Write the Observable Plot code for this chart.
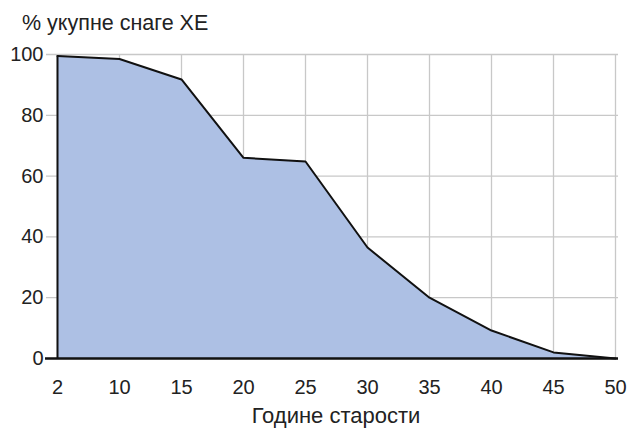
<!DOCTYPE html>
<html>
<head>
<meta charset="utf-8">
<script src="https://cdn.jsdelivr.net/npm/d3@7"></script>
<script src="https://cdn.jsdelivr.net/npm/@observablehq/plot@0.6"></script>
<style>
  body { margin: 0; background: #fff; font-family: "Liberation Sans", Arial, sans-serif; }
  #wrap { position: relative; width: 634px; height: 429px; }
  #title { position: absolute; left: 22px; top: 10px; font-size: 21.5px; line-height: 26px; color: #222; white-space: nowrap; z-index: 2; }
  #chart { position: absolute; left: 0; top: 0; }
</style>
</head>
<body>
<div id="wrap">
<div id="title">% укупне снаге ХЕ</div>
<div id="chart"></div>
</div>
<script>
const ages = ["2", "10", "15", "20", "25", "30", "35", "40", "45", "50"];
const shares = [99.5, 98.5, 91.8, 66, 64.8, 36.5, 20, 9.2, 2, 0];
const yTicks = [0, 20, 40, 60, 80, 100];
const xLabel = "Године старости";

const data = ages.map((a, i) => ({age: a, value: shares[i]}));

const chart = Plot.plot({
  width: 634,
  height: 429,
  marginLeft: 53,
  marginRight: 16,
  marginTop: 54,
  marginBottom: 71,
  style: {fontFamily: "'Liberation Sans', Arial, sans-serif", fontSize: "20px", color: "#222", background: "transparent"},
  x: {type: "point", domain: ages, padding: 0},
  y: {domain: [0, 100]},
  marks: [
    Plot.ruleX(ages, {stroke: "#c8c8c8", strokeWidth: 1.3}),
    Plot.ruleY(yTicks, {stroke: "#c8c8c8", strokeWidth: 1.3, insetLeft: -7}),
    Plot.areaY(data, {x: "age", y: "value", fill: "#adc0e4"}),
    Plot.lineY(data, {x: "age", y: "value", stroke: "#111", strokeWidth: 2}),
    Plot.ruleX(data.slice(0, 1), {x: "age", y1: 0, y2: "value", stroke: "#111", strokeWidth: 2}),
    Plot.ruleY([0], {stroke: "#111", strokeWidth: 2.5, insetLeft: -8}),
    Plot.axisY(yTicks, {tickSize: 0, tickPadding: 10, label: null, fill: "#222", fontSize: 20}),
    Plot.axisX(ages, {tickSize: 0, tickPadding: 21, label: null, fill: "#222", fontSize: 20}),
    Plot.axisX([], {tickSize: 0, label: xLabel, labelAnchor: "center", labelOffset: 64, labelArrow: "none", fill: "#222", fontSize: 22})
  ]
});
document.getElementById("chart").appendChild(chart);
</script>
</body>
</html>
